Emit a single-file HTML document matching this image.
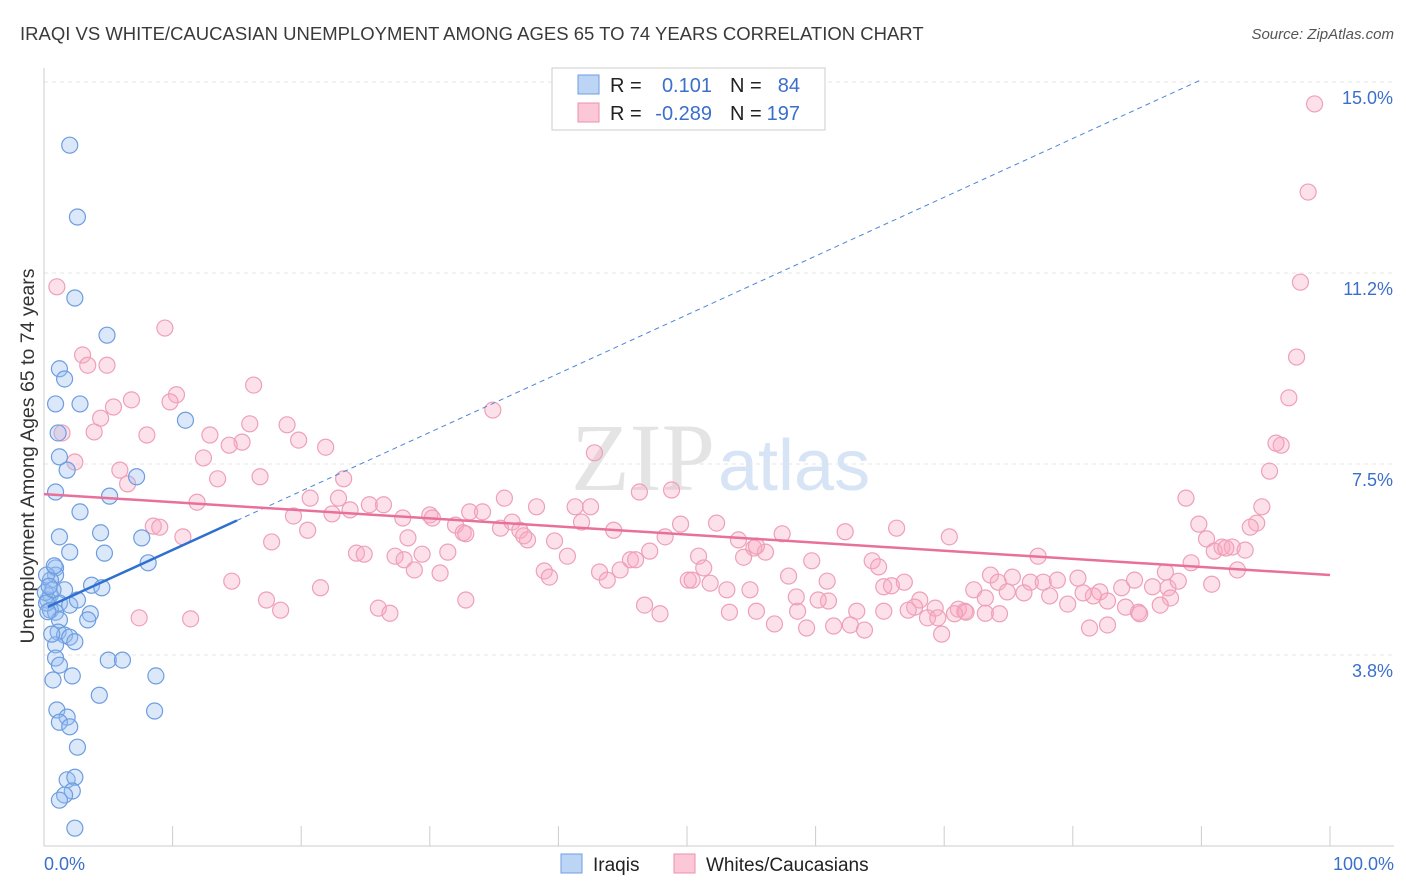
<!DOCTYPE html>
<html><head><meta charset="utf-8"><style>
body{margin:0;background:#fff;font-family:"Liberation Sans",sans-serif;}
#wrap{position:relative;width:1406px;height:892px;overflow:hidden;}
</style></head><body>
<div id="wrap">
<svg id="svg" width="1406" height="892" font-family="Liberation Sans, sans-serif">
<text x="20" y="40" font-size="18.5" fill="#3a3a3a">IRAQI VS WHITE/CAUCASIAN UNEMPLOYMENT AMONG AGES 65 TO 74 YEARS CORRELATION CHART</text>
<text x="1394" y="39" font-size="15" fill="#555" text-anchor="end" font-style="italic">Source: ZipAtlas.com</text>
<text x="715" y="490" font-size="96" fill="#e4e4e4" text-anchor="end" style="font-family:'Liberation Serif',serif">ZIP</text>
<text x="718" y="490" font-size="72" fill="#d6e4f5">atlas</text>
<text x="34" y="456" font-size="19.5" fill="#333" text-anchor="middle" transform="rotate(-90 34 456)">Unemployment Among Ages 65 to 74 years</text>
<g id="grid"></g><g id="marks"></g>
<g>
<rect x="552" y="68" width="273" height="62" fill="#fff" stroke="#ccc"/>
<rect x="578" y="75" width="21" height="19" fill="#bcd5f5" stroke="#6d9de0"/>
<rect x="578" y="103" width="21" height="19" fill="#fcc7d7" stroke="#eb90ad"/>
<text x="610" y="92" font-size="20" fill="#222">R =</text><text x="712" y="92" font-size="20" fill="#3b6fcc" text-anchor="end">0.101</text>
<text x="730" y="92" font-size="20" fill="#222">N =</text><text x="800" y="92" font-size="20" fill="#3b6fcc" text-anchor="end">84</text>
<text x="610" y="120" font-size="20" fill="#222">R =</text><text x="712" y="120" font-size="20" fill="#3b6fcc" text-anchor="end">-0.289</text>
<text x="730" y="120" font-size="20" fill="#222">N =</text><text x="800" y="120" font-size="20" fill="#3b6fcc" text-anchor="end">197</text>
</g>
<g>
<rect x="561" y="854" width="21" height="19" fill="#bcd5f5" stroke="#6d9de0"/>
<text x="593" y="871" font-size="19" fill="#222">Iraqis</text>
<rect x="674" y="854" width="21" height="19" fill="#fcc7d7" stroke="#eb90ad"/>
<text x="706" y="871" font-size="19" fill="#222">Whites/Caucasians</text>
</g>
</svg></div>
<script>
const yTicks=[3.75,7.5,11.25,15];
const yTickLabels=["3.8%","7.5%","11.2%","15.0%"];
const xTickLabels=["0.0%","100.0%"];
const blueX=[2.0,2.6,2.4,4.9,1.2,1.6,0.9,2.8,11.0,1.1,1.2,1.8,7.2,0.9,5.1,2.8,1.2,4.4,7.6,2.0,4.7,8.1,0.9,0.9,0.5,3.7,4.5,1.6,0.5,0.3,1.2,2.0,2.6,0.5,0.9,3.6,1.2,3.4,1.1,1.6,2.0,2.4,0.9,0.9,5.0,6.1,1.2,0.7,2.2,8.7,4.3,1.0,8.6,1.8,1.2,2.0,2.6,1.8,2.4,2.2,1.6,1.2,2.4,0.1,0.2,0.6,0.2,0.7,0.3,0.8,0.4];
const blueY=[13.76,12.35,10.76,10.03,9.37,9.17,8.68,8.68,8.36,8.11,7.64,7.38,7.25,6.95,6.87,6.56,6.07,6.15,6.05,5.77,5.75,5.56,5.46,5.32,5.22,5.12,5.07,5.03,4.93,4.83,4.77,4.73,4.83,4.63,4.59,4.56,4.44,4.44,4.20,4.14,4.10,4.01,3.95,3.69,3.65,3.65,3.55,3.26,3.34,3.34,2.96,2.67,2.65,2.53,2.43,2.34,1.94,1.30,1.35,1.08,1.00,0.90,0.35,4.98,4.77,4.16,5.32,5.03,4.6,5.5,5.1];
const pinkX=[1.0,9.4,3.0,4.9,3.4,16.3,10.3,6.8,5.4,9.8,34.9,4.4,1.4,18.9,16.0,12.9,8.0,3.9,19.8,21.9,15.4,14.4,12.4,42.8,2.4,5.9,13.5,16.8,23.3,6.5,11.9,20.7,22.9,25.3,23.8,26.4,30.0,33.1,34.1,35.8,38.3,41.3,42.5,46.3,48.8,88.8,95.3,96.2,95.8,96.8,97.4,97.7,98.3,98.8,94.7,94.3,93.8,89.8,90.4,19.4,22.4,27.9,30.2,32.0,32.6,35.5,36.4,37.0,37.6,41.8,44.3,49.5,52.3,54.0,57.4,62.3,66.3,70.4,8.5,9.0,10.8,17.7,20.5,28.3,32.8,37.3,39.7,48.3,55.2,56.1,55.4,91.0,91.6,92.4,93.4,91.9,24.3,24.9,27.3,28.0,29.4,31.4,40.7,45.6,47.1,50.9,54.4,59.7,64.4,64.9,77.3,89.2,92.8,87.2,14.6,21.5,28.8,30.8,38.9,39.3,43.2,43.8,44.8,46.0,50.1,50.4,51.3,51.8,53.1,54.9,57.9,60.9,65.3,65.9,66.9,72.3,73.6,74.2,75.3,76.7,77.7,78.8,80.4,82.1,83.8,84.8,86.2,87.4,88.2,90.8,87.6,86.8,85.1,84.1,82.7,81.6,80.8,79.6,78.2,76.2,74.9,73.2,71.6,71.1,69.3,68.1,67.7,67.2,65.3,63.2,61.0,60.2,58.6,58.5,55.4,53.3,47.9,46.7,32.8,26.0,26.9,17.3,18.4,7.4,11.4,68.7,69.5,71.7,74.3,56.8,59.3,61.4,62.7,63.8,70.8,73.2,81.3,82.7,85.2,69.8];
const pinkY=[10.98,10.17,9.64,9.44,9.44,9.05,8.86,8.76,8.62,8.72,8.56,8.40,8.11,8.27,8.29,8.07,8.07,8.13,7.97,7.83,7.93,7.87,7.62,7.72,7.54,7.38,7.21,7.25,7.21,7.11,6.75,6.83,6.83,6.70,6.60,6.70,6.50,6.56,6.56,6.83,6.66,6.66,6.66,6.95,6.99,6.83,7.36,7.87,7.91,8.80,9.60,11.07,12.84,14.57,6.66,6.34,6.26,6.32,6.03,6.48,6.52,6.44,6.44,6.30,6.15,6.24,6.36,6.20,6.01,6.36,6.20,6.32,6.34,6.01,6.13,6.17,6.24,6.07,6.28,6.26,6.07,5.97,6.20,6.05,6.13,6.09,5.99,6.07,5.85,5.77,5.89,5.79,5.87,5.87,5.81,5.85,5.75,5.73,5.69,5.62,5.73,5.77,5.69,5.62,5.79,5.69,5.67,5.60,5.60,5.48,5.69,5.56,5.42,5.38,5.20,5.07,5.42,5.36,5.40,5.28,5.38,5.22,5.42,5.62,5.22,5.22,5.46,5.16,5.03,5.03,5.30,5.20,5.09,5.11,5.18,5.03,5.32,5.18,5.28,5.18,5.18,5.22,5.26,4.99,5.07,5.22,5.09,5.07,5.20,5.14,4.87,4.73,4.59,4.69,4.81,4.91,4.97,4.75,4.91,4.97,4.99,4.87,4.61,4.65,4.67,4.83,4.69,4.63,4.61,4.61,4.81,4.83,4.61,4.89,4.61,4.59,4.56,4.73,4.83,4.67,4.57,4.83,4.63,4.48,4.46,4.48,4.48,4.59,4.56,4.36,4.28,4.32,4.34,4.24,4.56,4.57,4.28,4.34,4.56,4.16];
const blueFit=[4.66,0.1154];
const pinkFit=[6.91,-0.0159];
const NS="http://www.w3.org/2000/svg";
const X=v=>44+v*12.86, Y=v=>846-v*50.93;
function mk(t,a,p){const e=document.createElementNS(NS,t);for(const k in a)e.setAttribute(k,a[k]);p.appendChild(e);return e;}
const gridG=document.getElementById('grid'),marksG=document.getElementById('marks');
yTicks.forEach((t,i)=>{
 const l=mk('line',{x1:44,x2:1394,y1:Y(t),y2:Y(t),stroke:'#e4e4e4','stroke-dasharray':'4,4'},gridG);
 
 
 const tx=mk('text',{x:1393,y:Y(t)+22,'font-size':18,fill:'#3b6fcc','text-anchor':'end'},gridG);
 tx.textContent=yTickLabels[i];
 
 
});
const ya=mk('line',{x1:44,x2:44,y1:68,y2:846,stroke:'#ccc'},gridG);


const xa=mk('line',{x1:44,x2:1394,y1:846,y2:846,stroke:'#ccc'},gridG);


for(let i=0;i<=10;i++){const t=mk('line',{x1:X(i*10),x2:X(i*10),y1:826,y2:846,stroke:'#ccc'},gridG);
 
 }
[[0,'start',44],[1,'end',1394]].forEach(([i,a,x])=>{const t=mk('text',{x:x,y:870,'font-size':18,fill:'#3b6fcc','text-anchor':a},gridG);t.textContent=xTickLabels[i];
 
 });
pinkX.forEach((v,i)=>{const c=mk('circle',{cx:X(v),cy:Y(pinkY[i]),r:8,fill:'rgba(248,170,195,0.35)',stroke:'#eea0b8','stroke-width':1.2},marksG);
 
 });
blueX.forEach((v,i)=>{const c=mk('circle',{cx:X(v),cy:Y(blueY[i]),r:8,fill:'rgba(150,190,240,0.35)',stroke:'#6d9de0','stroke-width':1.2},marksG);
 
 });
const bx2=(15.05-blueFit[0])/blueFit[1];
const bd=mk('line',{x1:X(15),y1:Y(blueFit[0]+blueFit[1]*15),x2:X(bx2),y2:Y(blueFit[0]+blueFit[1]*bx2),stroke:'#4a86d8','stroke-width':1,'stroke-dasharray':'5,4'},marksG);


const bs=mk('line',{x1:X(0.3),y1:Y(blueFit[0]+blueFit[1]*0.3),x2:X(15),y2:Y(blueFit[0]+blueFit[1]*15),stroke:'#2f6fd0','stroke-width':2.5},marksG);


const ps=mk('line',{x1:X(0),y1:Y(pinkFit[0]),x2:X(100),y2:Y(pinkFit[0]+pinkFit[1]*100),stroke:'#e8709a','stroke-width':2.5},marksG);


</script>
</body></html>
